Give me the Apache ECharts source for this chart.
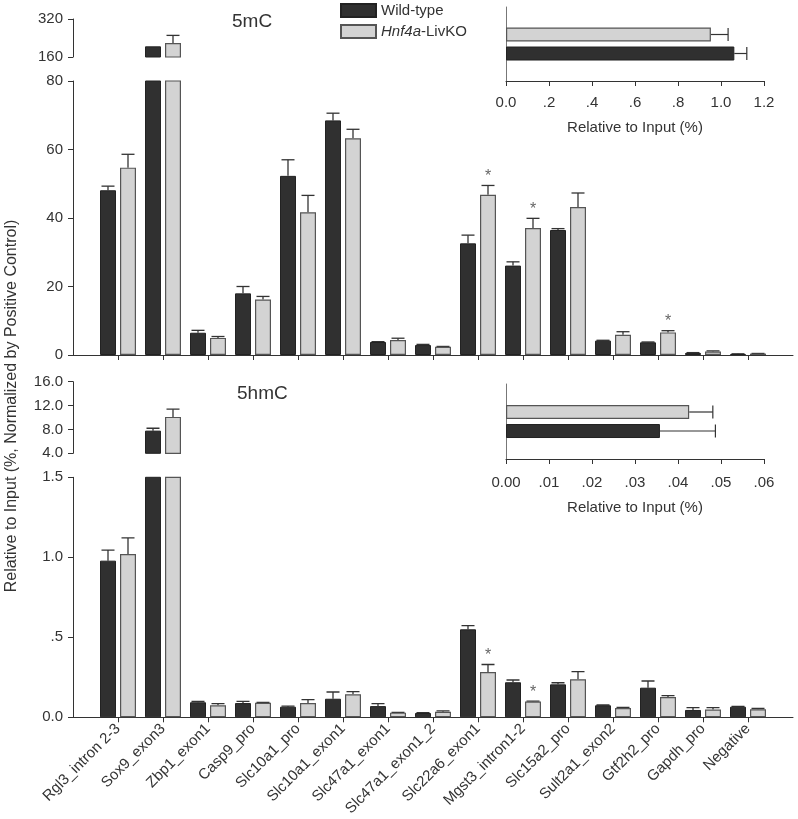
<!DOCTYPE html>
<html>
<head>
<meta charset="utf-8">
<script src="https://cdn.jsdelivr.net/npm/echarts@6/dist/echarts.min.js"></script>
<style>
  html, body { margin: 0; padding: 0; background: #fff; }
  #chart { width: 798px; height: 819px; }
</style>
</head>
<body>
<div id="chart"></div>
<script>
const categories = [
  "Rgl3_intron 2-3", "Sox9_exon3", "Zbp1_exon1", "Casp9_pro", "Slc10a1_pro",
  "Slc10a1_exon1", "Slc47a1_exon1", "Slc47a1_exon1_2", "Slc22a6_exon1",
  "Mgst3_intron1-2", "Slc15a2_pro", "Sult2a1_exon2", "Gtf2h2_pro", "Gapdh_pro", "Negative"
];

// 5mC, % normalized by positive control
const mcWT     = [48.1, 205, 6.5, 18.0, 52.3, 68.5, 3.8, 2.9, 32.6, 26.1, 36.5, 4.2, 3.7, 0.6, 0.3];
const mcWTErr  = [1.2, 0, 0.7, 2.0, 4.7, 2.1, 0.1, 0.2, 2.4, 1.1, 0.4, 0.1, 0.1, 0.1, 0.05];
const mcKO     = [54.7, 219, 5.0, 16.2, 41.7, 63.3, 4.4, 2.4, 46.8, 37.1, 43.2, 5.9, 6.6, 1.0, 0.4];
const mcKOErr  = [3.9, 32, 0.4, 0.9, 4.9, 2.6, 0.5, 0.1, 2.7, 2.8, 4.1, 0.9, 0.5, 0.2, 0.05];
const mcSig    = [8, 9, 12];

// 5hmC
const hmcWT    = [0.979, 7.8, 0.094, 0.089, 0.066, 0.116, 0.07, 0.027, 0.55, 0.219, 0.206, 0.075, 0.185, 0.046, 0.066];
const hmcWTErr = [0.066, 0.4, 0.006, 0.01, 0.004, 0.042, 0.015, 0.002, 0.023, 0.014, 0.01, 0.002, 0.042, 0.014, 0.002];
const hmcKO    = [1.021, 10.1, 0.075, 0.091, 0.089, 0.144, 0.029, 0.035, 0.283, 0.098, 0.238, 0.058, 0.127, 0.048, 0.05];
const hmcKOErr = [0.1, 1.3, 0.01, 0.002, 0.021, 0.016, 0.002, 0.005, 0.047, 0.003, 0.047, 0.004, 0.008, 0.012, 0.005];
const hmcSig   = [8, 9];

// insets: relative to input (%)
const mcInset  = { wt: 1.062, wtErr: 0.058, ko: 0.953, koErr: 0.08 };
const hmcInset = { wt: 0.0358, wtErr: 0.0129, ko: 0.0426, koErr: 0.0055 };

const WT = "Wild-type", KO = "Hnf4a-LivKO";
const dark = { color: "#303030", borderColor: "#222", borderWidth: 1 };
const light = { color: "#d3d3d3", borderColor: "#555", borderWidth: 1.2 };
const axisCol = "#333";
const font = "Liberation Sans, Arial, sans-serif";

const chart = echarts.init(document.getElementById("chart"));
// empty slot at each end so the axis line runs past the first and last group
const axisCats = [""].concat(categories, [""]);

function catX(gridIndex, showLine, showLabels) {
  return {
    type: "category", gridIndex, data: axisCats, boundaryGap: false,
    show: showLine,
    axisLine: { show: showLine, lineStyle: { color: axisCol } },
    axisTick: { show: showLine, length: 5, interval: (i, v) => v !== "", lineStyle: { color: axisCol } },
    axisLabel: { show: showLabels, interval: 0, rotate: 45, margin: 9, fontSize: 15, color: "#333" }
  };
}

function valY(gridIndex, min, max, interval, fmt) {
  return {
    type: "value", gridIndex, min, max, interval,
    splitLine: { show: false },
    axisLine: { show: true, lineStyle: { color: axisCol } },
    axisTick: { show: true, length: 5, lineStyle: { color: axisCol } },
    axisLabel: { fontSize: 15, color: "#333", margin: 10, formatter: fmt }
  };
}

function bars(axis, vals, name, style) {
  return {
    type: "bar", name, xAxisIndex: axis, yAxisIndex: axis,
    barWidth: 16, barGap: "25%",
    itemStyle: style,
    data: vals.map((v, i) => [categories[i], v]),
    clip: true
  };
}

// upward error bars (+ optional star) for vertical panels
function errBars(axis, vals, errs, offset, sig) {
  return {
    type: "custom", xAxisIndex: axis, yAxisIndex: axis, clip: true, silent: true,
    data: vals.map((v, i) => [categories[i], v, errs[i], sig.indexOf(i) >= 0 ? 1 : 0]),
    renderItem: function (params, api) {
      const base = api.coord([api.value(0), api.value(1)]);
      const top = api.coord([api.value(0), api.value(1) + api.value(2)]);
      const x = base[0] + offset;
      const st = { stroke: "#333", lineWidth: 1.3 };
      const kids = [];
      if (api.value(2) > 0) {
        kids.push({ type: "line", shape: { x1: x, y1: base[1], x2: x, y2: top[1] }, style: st });
        kids.push({ type: "line", shape: { x1: x - 6.5, y1: top[1], x2: x + 6.5, y2: top[1] }, style: st });
      }
      if (api.value(3)) {
        kids.push({ type: "text", x: x, y: top[1] - 1,
          style: { text: "*", fill: "#666", fontSize: 16, align: "center", verticalAlign: "bottom", fontFamily: font } });
      }
      return { type: "group", children: kids };
    }
  };
}

// horizontal error bars for insets
function errH(axis, val, err, offset) {
  return {
    type: "custom", xAxisIndex: axis, yAxisIndex: axis, silent: true,
    encode: { x: 0, y: 1 },
    data: [[val, 0, err]],
    renderItem: function (params, api) {
      const a = api.coord([api.value(0), 0]);
      const b = api.coord([api.value(0) + api.value(2), 0]);
      const y = a[1] + offset;
      const st = { stroke: "#333", lineWidth: 1.2 };
      return { type: "group", children: [
        { type: "line", shape: { x1: a[0], y1: y, x2: b[0], y2: y }, style: st },
        { type: "line", shape: { x1: b[0], y1: y - 6.5, x2: b[0], y2: y + 6.5 }, style: st }
      ] };
    }
  };
}

function insetX(gridIndex, max, interval, fmt, labelMargin, nameGap) {
  return {
    type: "value", gridIndex, min: 0, max, interval,
    splitLine: { show: false },
    axisLine: { show: true, lineStyle: { color: axisCol } },
    axisTick: { show: true, length: 5, lineStyle: { color: axisCol } },
    axisLabel: { fontSize: 15, color: "#333", margin: labelMargin, formatter: fmt },
    name: "Relative to Input (%)", nameLocation: "middle", nameGap,
    nameTextStyle: { fontSize: 15, color: "#333" }
  };
}

function insetY(gridIndex) {
  return {
    type: "category", gridIndex, data: [""],
    axisLine: { show: true, lineStyle: { color: "#777" } },
    axisTick: { show: false }, axisLabel: { show: false }
  };
}

function insetBars(axis, d) {
  return [
    { type: "bar", name: KO, xAxisIndex: axis, yAxisIndex: axis, barWidth: 14, barGap: "36%", itemStyle: light, data: [d.ko] },
    { type: "bar", name: WT, xAxisIndex: axis, yAxisIndex: axis, barWidth: 14, barGap: "36%", itemStyle: dark, data: [d.wt] },
    errH(axis, d.ko, d.koErr, -9.5),
    errH(axis, d.wt, d.wtErr, 9.5)
  ];
}

// "0.0", ".5", "1.0" style labels
const dec = (n) => (v) => {
  if (v === 0) return (0).toFixed(n);
  const s = v.toFixed(n);
  return s.startsWith("0.") ? s.slice(1) : s;
};

const option = {
  animation: false,
  backgroundColor: "#fff",
  textStyle: { fontFamily: font },
  title: [
    { text: "5mC", left: 232, top: 12, padding: 0, textStyle: { fontSize: 19, fontWeight: "normal", color: "#333" } },
    { text: "5hmC", left: 237, top: 384, padding: 0, textStyle: { fontSize: 19, fontWeight: "normal", color: "#333" } }
  ],
  legend: {
    data: [WT, KO], orient: "vertical", left: 340, top: 3, padding: 0,
    icon: "rect", itemWidth: 35, itemHeight: 13, itemGap: 6, selectedMode: false,
    textStyle: { fontSize: 15, color: "#333", rich: { i: { fontStyle: "italic", fontSize: 15, color: "#333" }, n: { fontSize: 15, color: "#333" } } },
    formatter: (n) => n === KO ? "{i|Hnf4a}{n|-LivKO}" : "{n|" + n + "}"
  },
  grid: [
    { left: 73, top: 19, width: 720, height: 38, outerBoundsMode: "none" },
    { left: 73, top: 81, width: 720, height: 274, outerBoundsMode: "none" },
    { left: 73, top: 381.7, width: 720, height: 71.6, outerBoundsMode: "none" },
    { left: 73, top: 477.3, width: 720, height: 240, outerBoundsMode: "none" },
    { left: 506, top: 7, width: 258, height: 74, outerBoundsMode: "none" },
    { left: 506, top: 384, width: 258, height: 75, outerBoundsMode: "none" }
  ],
  xAxis: [
    catX(0, false, false),
    catX(1, true, false),
    catX(2, false, false),
    catX(3, true, true),
    insetX(4, 1.2, 0.2, dec(1), 14, 39),
    insetX(5, 0.06, 0.01, dec(2), 16, 41)
  ],
  yAxis: [
    valY(0, 160, 320, 160),
    valY(1, 0, 80, 20),
    valY(2, 4, 16, 4, (v) => v.toFixed(1)),
    valY(3, 0, 1.5, 0.5, dec(1)),
    insetY(4),
    insetY(5)
  ],
  graphic: [{
    type: "text", x: 12, y: 406, rotation: Math.PI / 2,
    style: { text: "Relative to Input (%, Normalized by Positive Control)", fontSize: 16, fill: "#333",
      align: "center", verticalAlign: "middle", fontFamily: font }
  }],
  series: [
    bars(0, mcWT, WT, dark), bars(0, mcKO, KO, light),
    errBars(0, mcWT, mcWTErr, -10, []), errBars(0, mcKO, mcKOErr, 10, []),
    bars(1, mcWT, WT, dark), bars(1, mcKO, KO, light),
    errBars(1, mcWT, mcWTErr, -10, []), errBars(1, mcKO, mcKOErr, 10, mcSig),
    bars(2, hmcWT, WT, dark), bars(2, hmcKO, KO, light),
    errBars(2, hmcWT, hmcWTErr, -10, []), errBars(2, hmcKO, hmcKOErr, 10, []),
    bars(3, hmcWT, WT, dark), bars(3, hmcKO, KO, light),
    errBars(3, hmcWT, hmcWTErr, -10, []), errBars(3, hmcKO, hmcKOErr, 10, hmcSig),
    ...insetBars(4, mcInset),
    ...insetBars(5, hmcInset)
  ]
};

chart.setOption(option);
</script>
</body>
</html>
